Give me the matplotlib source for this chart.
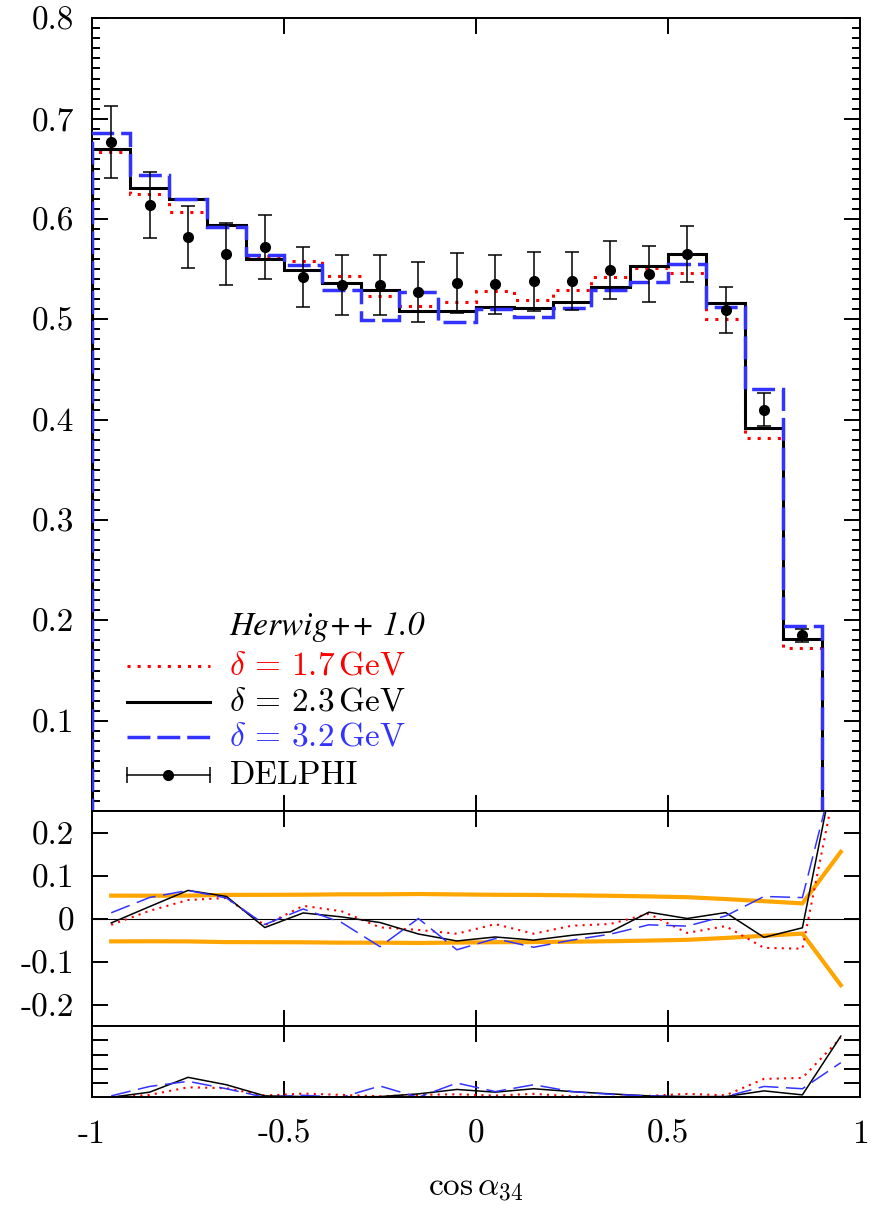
import numpy as np
import matplotlib
matplotlib.use('Agg')
import matplotlib.pyplot as plt
from matplotlib.ticker import MultipleLocator

plt.rcParams['font.family'] = ['cmr10', 'DejaVu Serif']
plt.rcParams['mathtext.fontset'] = 'cm'
plt.rcParams['axes.unicode_minus'] = False
plt.rcParams['axes.formatter.use_mathtext'] = True

# bins in cos(alpha_34), 20 bins of width 0.1
edges = np.linspace(-1, 1, 21)
centers = 0.5 * (edges[:-1] + edges[1:])

# DELPHI data and errors
data = np.array([0.677, 0.614, 0.582, 0.565, 0.572, 0.542, 0.534, 0.534, 0.527, 0.536,
                 0.535, 0.538, 0.538, 0.549, 0.545, 0.565, 0.509, 0.410, 0.185, 0.004])
data_err = np.array([0.036, 0.0325, 0.031, 0.031, 0.0315, 0.030, 0.030, 0.030, 0.030, 0.030,
                     0.0295, 0.0295, 0.029, 0.029, 0.028, 0.028, 0.023, 0.0165, 0.0065, 0.00062])

# Herwig++ 1.0 predictions for three cutoff values
mc_17 = np.array([0.667, 0.625, 0.607, 0.592, 0.563, 0.558, 0.543, 0.523, 0.513, 0.517,
                  0.528, 0.519, 0.529, 0.542, 0.551, 0.546, 0.500, 0.382, 0.172, 0.0055])
mc_23 = np.array([0.670, 0.631, 0.620, 0.594, 0.560, 0.549, 0.536, 0.529, 0.508, 0.508,
                  0.512, 0.511, 0.517, 0.532, 0.553, 0.565, 0.516, 0.392, 0.181, 0.0057])
mc_32 = np.array([0.686, 0.644, 0.620, 0.592, 0.564, 0.554, 0.529, 0.499, 0.527, 0.497,
                  0.510, 0.502, 0.511, 0.529, 0.537, 0.555, 0.512, 0.431, 0.194, 0.0056])

# chi^2 per bin (bottom panel)
chi_17 = [0.0, 0.17, 0.70, 0.64, 0.12, 0.26, 0.17, 0.07, 0.17, 0.21,
          0.12, 0.24, 0.07, 0.02, 0.10, 0.24, 0.14, 1.29, 1.36, 4.17]
chi_23 = [0.0, 0.36, 1.40, 0.88, 0.10, 0.05, 0.02, 0.05, 0.24, 0.55,
          0.36, 0.60, 0.40, 0.24, 0.10, 0.05, 0.05, 0.45, 0.17, 4.29]
chi_32 = [0.10, 0.76, 1.12, 0.60, 0.0, 0.14, 0.0, 0.79, 0.0, 1.0,
          0.40, 0.88, 0.40, 0.21, 0.10, 0.02, 0.05, 0.76, 0.60, 2.43]

xticks = [-1, -0.5, 0, 0.5, 1]
xticklabels = ['-1', '-0.5', '0', '0.5', '1']
main_yticks = [0.1, 0.2, 0.3, 0.4, 0.5, 0.6, 0.7, 0.8]
main_yticklabels = ['0.1', '0.2', '0.3', '0.4', '0.5', '0.6', '0.7', '0.8']
ratio_yticks = [-0.2, -0.1, 0, 0.1, 0.2]
ratio_yticklabels = ['-0.2', '-0.1', '0', '0.1', '0.2']

RED = '#ff0000'
BLUE = '#3333ff'
ORANGE = '#ffa500'
FS = 24

fig = plt.figure(figsize=(8.82, 12.05), dpi=100)
left, width = 92 / 882, 768 / 882
ax1 = fig.add_axes([left, 1 - 811 / 1205, width, 792.7 / 1205])
ax2 = fig.add_axes([left, 1 - 1026 / 1205, width, 215 / 1205])
ax3 = fig.add_axes([left, 1 - 1097.3 / 1205, width, 71.3 / 1205])

# main panel
ax1.stairs(mc_17, edges, baseline=0, color=RED, lw=2.2, ls=(0, (1, 2.3)), zorder=3)
ax1.stairs(mc_23, edges, baseline=0, color='k', lw=2.2, zorder=3)
ax1.stairs(mc_32, edges, baseline=0, color=BLUE, lw=2.5, ls=(0, (6.6, 2)), zorder=3)
ax1.errorbar(centers, data, yerr=data_err, fmt='o', color='k', ms=7,
             capsize=5, elinewidth=1.1, capthick=1.1, zorder=5)
ax1.set_ylim(0.01, 0.8)
ax1.set_yticks(main_yticks)
ax1.set_yticklabels(main_yticklabels)
ax1.yaxis.set_minor_locator(MultipleLocator(0.01))

# legend drawn by hand
x0, x1, xt = 0.045, 0.154, 0.179
rows = [0.232, 0.183, 0.1375, 0.0934, 0.045]
ax1.text(xt, rows[0], 'Herwig++ 1.0', transform=ax1.transAxes, fontsize=FS,
         family='STIXGeneral', style='italic', va='center')
ax1.plot([x0, x1], [rows[1]] * 2, transform=ax1.transAxes, color=RED, lw=2.2, ls=(0, (1, 2.3)))
ax1.text(xt, rows[1], r'$\delta\,=\,1.7\,\mathrm{GeV}$', transform=ax1.transAxes,
         fontsize=FS, color=RED, va='center')
ax1.plot([x0, x1], [rows[2]] * 2, transform=ax1.transAxes, color='k', lw=2.2)
ax1.text(xt, rows[2], r'$\delta\,=\,2.3\,\mathrm{GeV}$', transform=ax1.transAxes,
         fontsize=FS, color='k', va='center')
ax1.plot([x0, x1], [rows[3]] * 2, transform=ax1.transAxes, color=BLUE, lw=2.5, ls=(0, (6.6, 2)))
ax1.text(xt, rows[3], r'$\delta\,=\,3.2\,\mathrm{GeV}$', transform=ax1.transAxes,
         fontsize=FS, color=BLUE, va='center')
ax1.plot([x0, x1], [rows[4]] * 2, transform=ax1.transAxes, color='k', lw=1.1)
ax1.plot([x0, x1], [rows[4]] * 2, transform=ax1.transAxes, color='k', ls='none',
         marker='|', ms=12, mew=1.1)
ax1.plot([(x0 + x1) / 2], [rows[4]], transform=ax1.transAxes, color='k', marker='o', ms=7)
ax1.text(xt, rows[4], 'DELPHI', transform=ax1.transAxes, fontsize=FS, va='center')

# ratio panel
band = data_err / data
ax2.axhline(0, color='k', lw=0.8)
ax2.plot(centers, band, color=ORANGE, lw=3)
ax2.plot(centers, -band, color=ORANGE, lw=3)
ax2.plot(centers, mc_17 / data - 1, color=RED, lw=1.5, ls=(0, (1, 2.5)))
ax2.plot(centers, mc_23 / data - 1, color='k', lw=1.1)
ax2.plot(centers, mc_32 / data - 1, color=BLUE, lw=1.1, ls=(0, (13, 5)))
ax2.set_ylim(-0.25, 0.25)
ax2.set_yticks(ratio_yticks)
ax2.set_yticklabels(ratio_yticklabels)

# chi^2 panel
ax3.plot(centers, chi_17, color=RED, lw=1.5, ls=(0, (1, 2.5)))
ax3.plot(centers, chi_23, color='k', lw=1.1)
ax3.plot(centers, chi_32, color=BLUE, lw=1.1, ls=(0, (13, 5)))
ax3.set_ylim(0, 5)
ax3.set_yticks([1, 2, 3, 4])
ax3.set_yticklabels([])

for ax in (ax1, ax2, ax3):
    ax.set_xlim(-1, 1)
    ax.set_xticks(xticks)
    ax.tick_params(which='both', direction='in', top=True, right=True, width=1.4,
                   labelsize=FS)
    ax.tick_params(which='major', length=11.5)
    ax.tick_params(which='minor', length=5.5)
    ax.tick_params(axis='y', pad=13)
    for s in ax.spines.values():
        s.set_linewidth(1.4)
    if ax is not ax3:
        ax.set_xticklabels([])

ax3.set_xticklabels(xticklabels)
ax3.tick_params(axis='x', pad=16)

fig.text(476 / 882, 1 - 1188 / 1205, r'$\cos\alpha_{34}$', fontsize=FS,
         ha='center', va='center')

fig.savefig('out.png', dpi=100)
